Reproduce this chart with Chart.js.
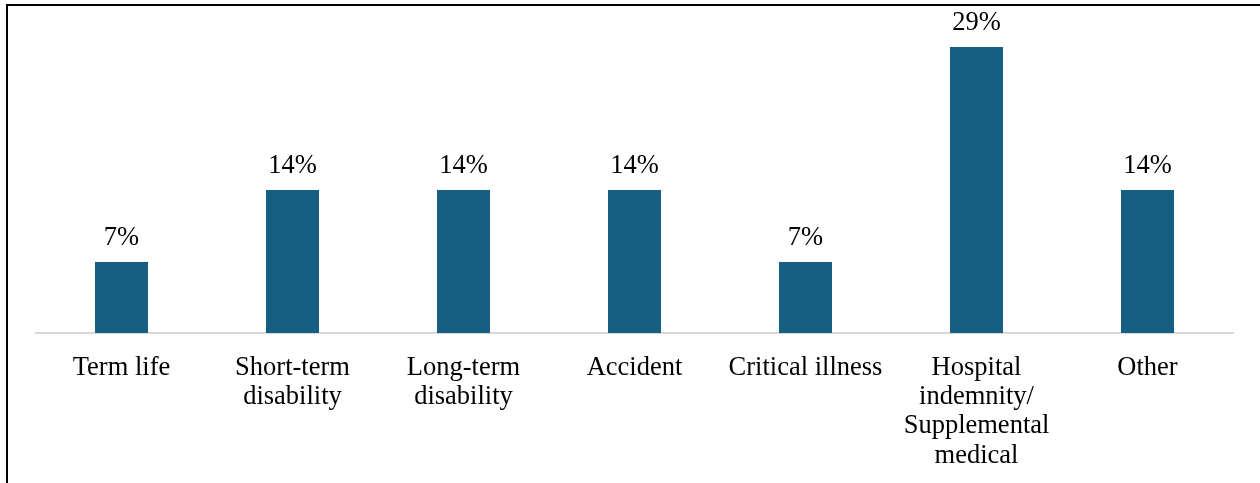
<!DOCTYPE html>
<html>
<head>
<meta charset="utf-8">
<script src="https://cdn.jsdelivr.net/npm/chart.js@4/dist/chart.umd.min.js"></script>
<style>
  html, body { margin: 0; padding: 0; background: #fff; }
  body { width: 1260px; height: 483px; overflow: hidden; position: relative; }
  #frame { position: absolute; left: 6px; top: 4px; width: 1260px; height: 490px;
           border-left: 2px solid #000; border-top: 2px solid #000; }
  #wrap { position: absolute; left: 0; top: 0; width: 1260px; height: 483px; }
</style>
</head>
<body>
<div id="frame"></div>
<div id="wrap"><canvas id="c" width="1260" height="483"></canvas></div>
<script>
const categories = [
  "Term life",
  ["Short-term", "disability"],
  ["Long-term", "disability"],
  "Accident",
  "Critical illness",
  ["Hospital", "indemnity/", "Supplemental", "medical"],
  "Other"
];
const values = [7.1, 14.3, 14.3, 14.3, 7.1, 28.6, 14.3];
const valueLabels = ["7%", "14%", "14%", "14%", "7%", "29%", "14%"];

const FONT = "'Liberation Serif', 'Times New Roman', serif";
const FONT_SIZE = 26.5;

const labelPlugin = {
  id: 'barLabels',
  afterDatasetsDraw(chart) {
    const ctx = chart.ctx;
    const meta = chart.getDatasetMeta(0);
    ctx.save();
    ctx.font = FONT_SIZE + "px " + FONT;
    ctx.fillStyle = "#000";
    ctx.textAlign = "center";
    ctx.textBaseline = "alphabetic";
    meta.data.forEach((bar, i) => {
      ctx.fillText(valueLabels[i], bar.x, bar.y - 17);
    });
    ctx.restore();
  }
};

new Chart(document.getElementById('c'), {
  type: 'bar',
  data: {
    labels: categories,
    datasets: [{
      data: values,
      backgroundColor: '#175f82',
      barPercentage: 0.31,
      categoryPercentage: 1.0
    }]
  },
  options: {
    responsive: false,
    animation: false,
    layout: { padding: { left: 36, right: 27, top: 33, bottom: 0 } },
    plugins: { legend: { display: false }, tooltip: { enabled: false } },
    scales: {
      x: {
        grid: { display: false, drawTicks: false },
        border: { display: true, color: '#d9d9d9', width: 2 },
        afterFit(scale) { scale.height = 150; },
        ticks: {
          color: '#000',
          padding: 20,
          maxRotation: 0,
          autoSkip: false,
          font: { family: FONT, size: FONT_SIZE, lineHeight: 1.11 }
        }
      },
      y: {
        display: false,
        min: 0,
        max: 30
      }
    }
  },
  plugins: [labelPlugin]
});
</script>
</body>
</html>
